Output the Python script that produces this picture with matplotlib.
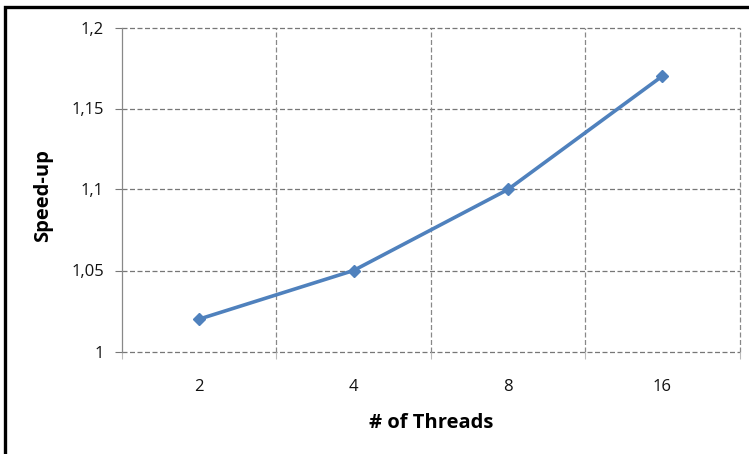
import matplotlib
matplotlib.use("Agg")
import matplotlib.pyplot as plt
from matplotlib.patches import Rectangle

threads = ["2", "4", "8", "16"]
speedup = [1.02, 1.05, 1.10, 1.17]
yticks = [1.0, 1.05, 1.10, 1.15, 1.20]
ytick_labels = ["1", "1,05", "1,1", "1,15", "1,2"]

plt.rcParams['font.family'] = ['Open Sans', 'DejaVu Sans']

W, H = 749, 454
fig = plt.figure(figsize=(W / 100, H / 100), dpi=100)
fig.patch.set_facecolor("white")

# outer frame (extends past right/bottom edge as in reference)
fig.add_artist(Rectangle((4.5 / W, -0.05), 1.2, 1 - 6.5 / H + 0.05,
                         transform=fig.transFigure, fill=False,
                         edgecolor="black", linewidth=2.4))

left, right, top, bottom = 122, 739.5, 27.5, 351.5
ax = fig.add_axes([left / W, 1 - bottom / H, (right - left) / W, (bottom - top) / H])

x = list(range(len(threads)))
ax.plot(x, speedup, color="#4F81BD", linewidth=2.6, marker="D", markersize=6.5,
        markeredgecolor="#4F81BD", markerfacecolor="#4F81BD", zorder=5, clip_on=False)

ax.set_xlim(-0.5, len(threads) - 0.5)
ax.set_ylim(1.0, 1.2)

ax.set_xticks(x)
ax.set_xticklabels(threads, fontsize=12)
ax.set_xticks([i - 0.5 for i in range(len(threads) + 1)], minor=True)
ax.set_yticks(yticks)
ax.set_yticklabels(ytick_labels, fontsize=12)

ax.tick_params(axis="x", which="major", length=0, pad=20, labelcolor="#111111")
ax.tick_params(axis="x", which="minor", length=5, color="#bbbbbb", width=0.8)
ax.tick_params(axis="y", which="major", length=5, color="#777777", width=0.8,
               pad=8, labelcolor="#111111")

ax.grid(False)
for yv in yticks:
    ax.axhline(yv, color="#777777", linestyle=(0, (4, 2)), linewidth=0.9, zorder=1,
               clip_on=False)
for xv in [i - 0.5 for i in range(1, len(threads) + 1)]:
    ax.axvline(xv, color="#888888", linestyle=(0, (4, 2)), linewidth=0.9, zorder=1,
               clip_on=False)

for s in ["top", "right", "bottom"]:
    ax.spines[s].set_visible(False)
ax.spines["left"].set_color("#888888")
ax.spines["left"].set_linewidth(0.9)

ax.set_xlabel("# of Threads", fontsize=14.5, fontweight="bold", labelpad=13)
ax.set_ylabel("Speed-up", fontsize=14.5, fontweight="bold")
ax.yaxis.set_label_coords(-0.111, 0.48)

fig.savefig("out.png", dpi=100, facecolor="white")
